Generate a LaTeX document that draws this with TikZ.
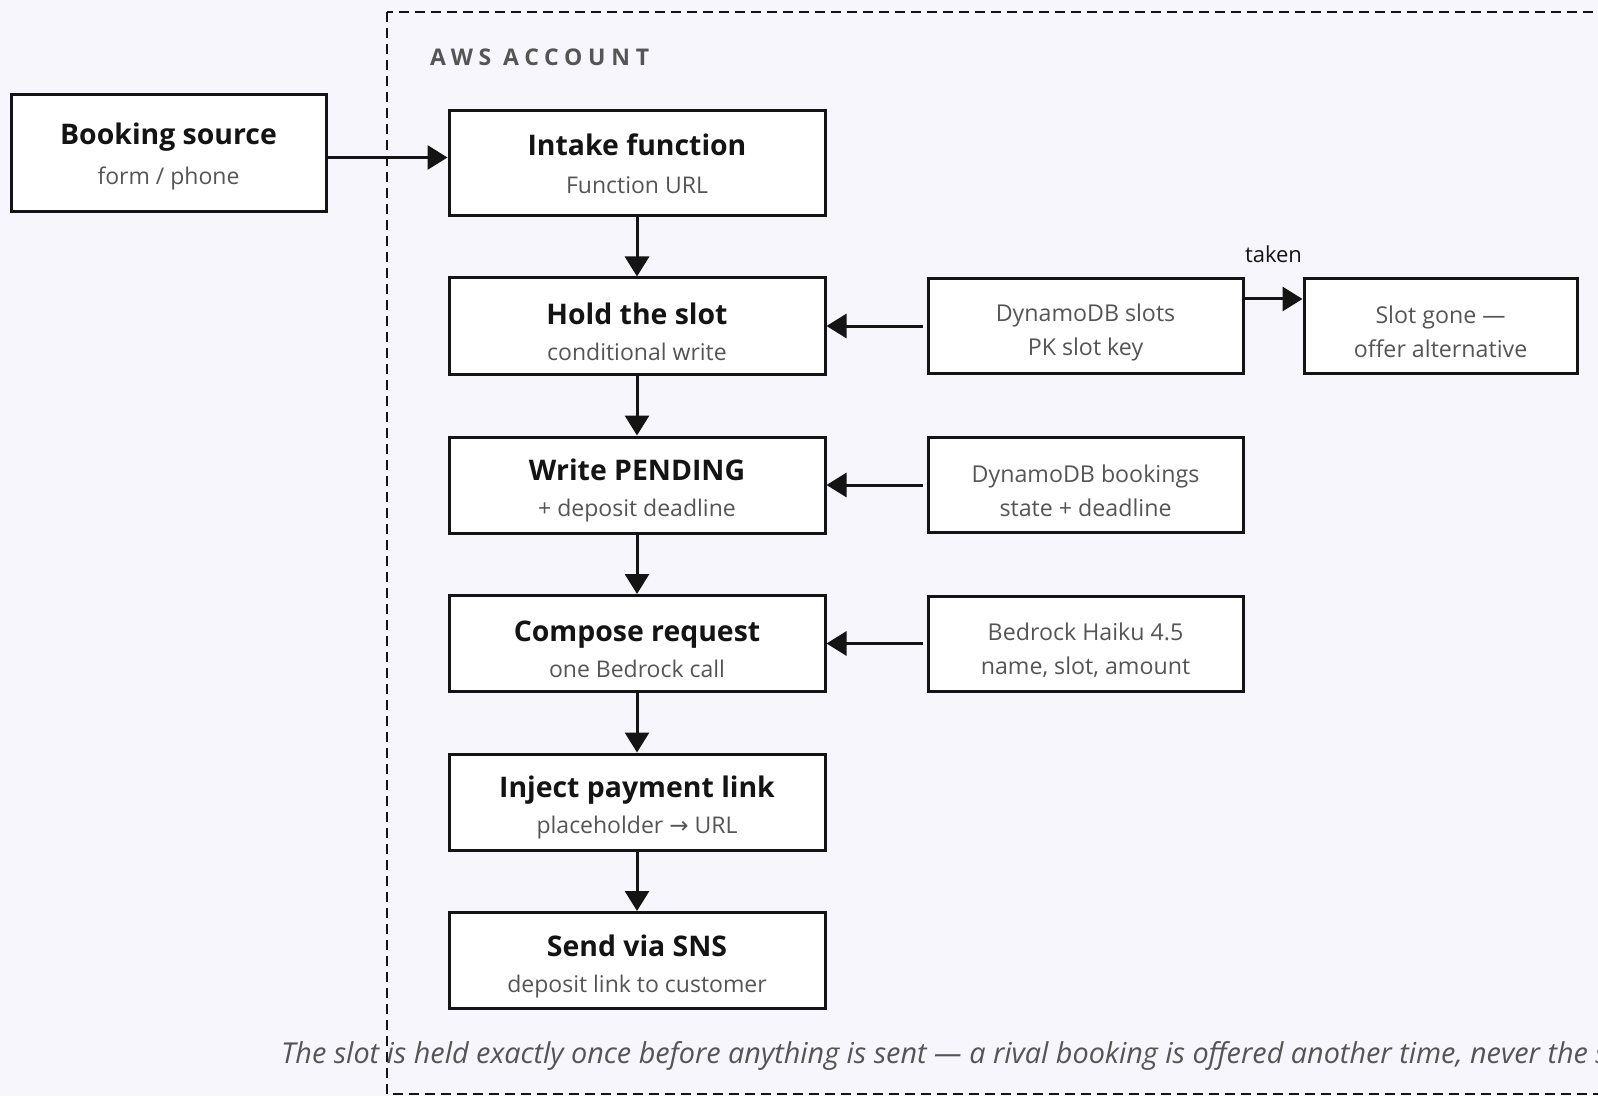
\documentclass[tikz,border=0pt]{standalone}
\usepackage{fontspec}
\setmainfont{Open Sans}
\newfontfamily\symfont{DejaVu Sans}
\usetikzlibrary{arrows.meta,positioning}

\definecolor{pagebg}{HTML}{F7F6FC}
\definecolor{ink}{HTML}{141414}
\definecolor{subgray}{HTML}{555555}

% title line, then grey detail line; optional strut lowers the pair
\newcommand{\steptext}[3][0pt]{{\fontsize{14.2}{16}\selectfont\bfseries\rule{0pt}{#1}#2}\\{\color{subgray}#3}}

\tikzset{
  stepbox/.style={draw=ink, fill=white, line width=1.5pt, minimum width=188pt,
    minimum height=48pt, align=center, inner sep=0pt, text=ink,
    font=\fontsize{11.5}{18}\selectfont},
  storebox/.style={draw=ink, fill=white, line width=1.5pt, minimum width=157.5pt,
    minimum height=47.5pt, align=center, inner sep=0pt, text=subgray,
    font=\fontsize{11.6}{17}\selectfont},
  flow/.style={draw=ink, line width=1.5pt, -{Triangle[length=10pt,width=12pt]}},
}

\begin{document}
\begin{tikzpicture}[x=0.5pt, y=-0.5pt]
  \useasboundingbox (0,0) rectangle (1598,1096);
  \fill[pagebg] (0,0) rectangle (1598,1096);

  % account boundary
  \draw[ink, line width=1pt, dash pattern=on 5pt off 3pt] (387,12) rectangle (1660,1094);
  \node[anchor=west, text=subgray] (account) at (423,57)
    {\fontsize{11.5}{13}\selectfont\bfseries\addfontfeatures{LetterSpace=25}AWS ACCOUNT};

  % source outside the account
  \node[stepbox, minimum width=157.5pt, minimum height=58.5pt, font=\fontsize{11.5}{20}\selectfont]
    (source) at (168.5,153.5) {\steptext[14pt]{Booking source}{form / phone}};

  % main flow
  \node[stepbox, minimum height=52.5pt, font=\fontsize{11.5}{19}\selectfont]
    (intake) at (637,163.5) {\steptext{Intake function}{Function URL}};
  \node[stepbox] (hold) at (637,326) {\steptext[16.5pt]{Hold the slot}{conditional write}};
  \node[stepbox] (pending) at (637,485) {\steptext[16.5pt]{Write PENDING}{+ deposit deadline}};
  \node[stepbox] (compose) at (637,643.5) {\steptext[16.5pt]{Compose request}{one Bedrock call}};
  \node[stepbox] (inject) at (637,802) {\steptext[16.5pt]{Inject payment link}{placeholder {\symfont →} URL}};
  \node[stepbox] (send) at (637,960.5) {\steptext[16.5pt]{Send via SNS}{deposit link to customer}};

  % stores and services
  \node[storebox] (slots) at (1085.5,326) {\rule{0pt}{15pt}DynamoDB slots\\PK slot key};
  \node[storebox] (bookings) at (1085.5,485) {\rule{0pt}{15pt}DynamoDB bookings\\state + deadline};
  \node[storebox] (bedrock) at (1085.5,643.5) {\rule{0pt}{15pt}Bedrock Haiku 4.5\\name, slot, amount};
  \node[storebox, minimum width=136.5pt] (gone) at (1440.5,326) {\rule{0pt}{15pt}Slot gone —\\offer alternative};

  \draw[flow] ([yshift=-2pt]source.east) -- ([yshift=-2pt]source.east -| intake.west);
  \draw[flow] (intake) -- (hold);
  \draw[flow] (hold) -- (pending);
  \draw[flow] (pending) -- (compose);
  \draw[flow] (compose) -- (inject);
  \draw[flow] (inject) -- (send);

  \draw[flow] ([xshift=-2pt]slots.west) -- (hold.east);
  \draw[flow] ([xshift=-2pt]bookings.west) -- (pending.east);
  \draw[flow] ([xshift=-2pt]bedrock.west) -- (compose.east);
  \draw[flow] ([yshift=13.5pt]slots.east) -- ([yshift=13.5pt]gone.west)
    node[midway, yshift=22.5pt, text=ink, font=\fontsize{11}{13}\selectfont] (taken) {taken};

  \node[anchor=west, text=subgray, font=\fontsize{14.4}{17}\selectfont\itshape] (caption) at (274,1056)
    {The slot is held exactly once before anything is sent — a rival booking is offered another time, never the same slot.};
\end{tikzpicture}
\end{document}
